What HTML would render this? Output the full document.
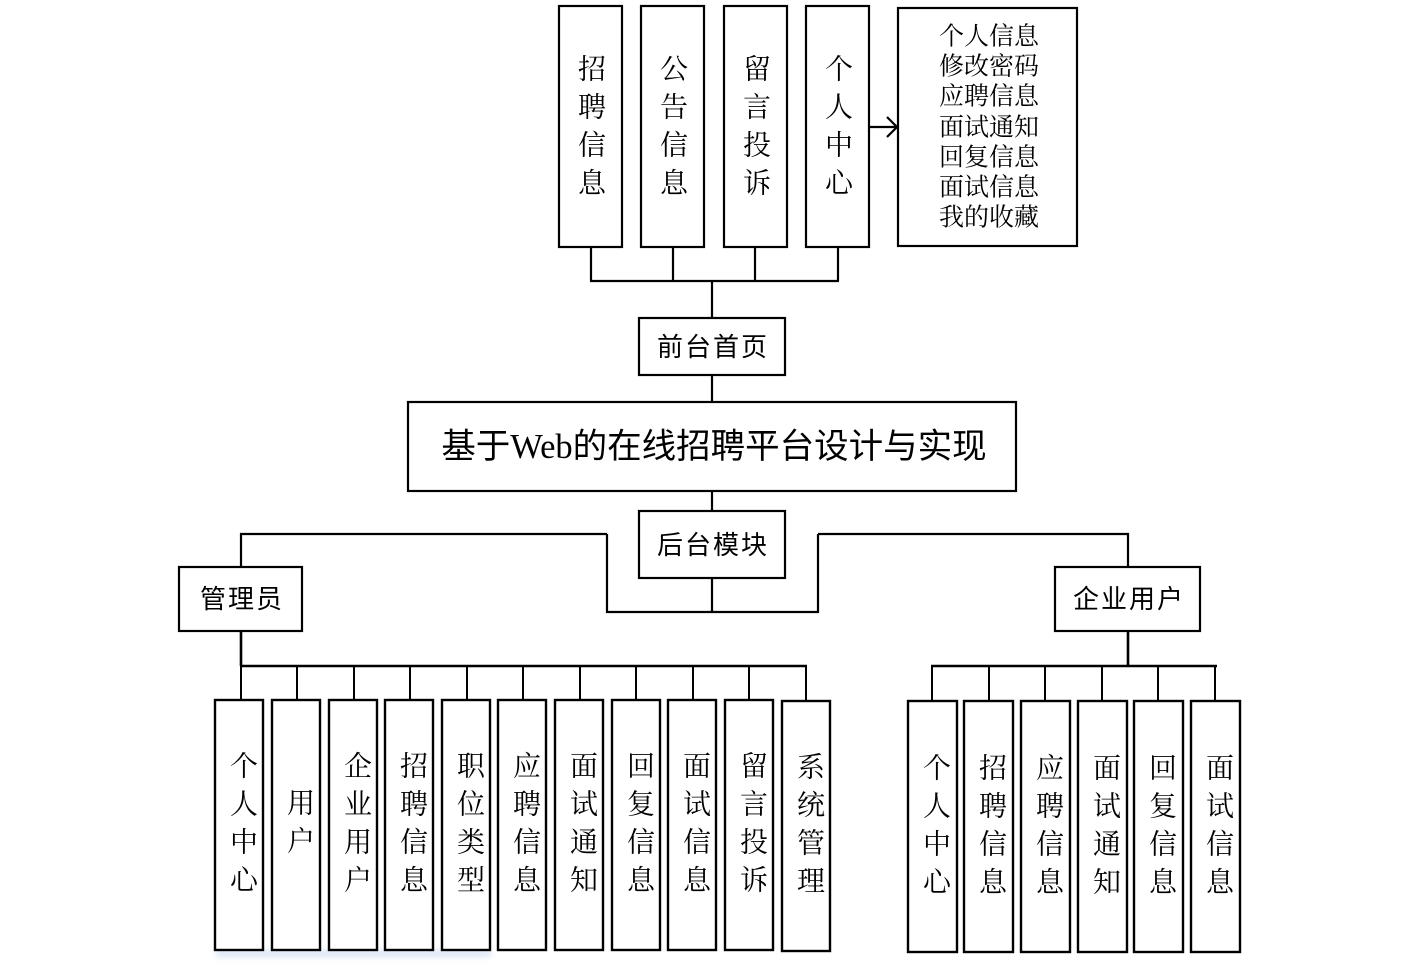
<!DOCTYPE html>
<html>
<head>
<meta charset="utf-8">
<style>
html,body{margin:0;padding:0;background:#fff;}
svg{display:block;}
.v{font-family:"Liberation Serif","Noto Serif CJK SC",serif;font-size:28px;fill:#000;}
.l{font-family:"Liberation Serif","Noto Serif CJK SC",serif;font-size:25px;fill:#000;}
.s{font-family:"Liberation Sans","Noto Sans CJK SC",sans-serif;font-size:26px;fill:#000;letter-spacing:2px;}
.t{font-family:"Liberation Serif","Noto Sans CJK SC",sans-serif;font-size:34.5px;fill:#000;}
</style>
</head>
<body>
<svg width="1411" height="967" viewBox="0 0 1411 967" xmlns="http://www.w3.org/2000/svg">
<defs>
<filter id="bl" x="-20%" y="-200%" width="140%" height="500%"><feGaussianBlur stdDeviation="3"/></filter>
</defs>
<g filter="url(#bl)" opacity="0.55">
<rect x="216" y="950" width="275" height="7" fill="#bcd2ee"/>
</g>

<g fill="none" stroke="#000" stroke-width="2.2">
<rect x="559" y="6" width="63" height="241" fill="#fff"/>
<rect x="641" y="6" width="63" height="241" fill="#fff"/>
<rect x="724" y="6" width="63" height="241" fill="#fff"/>
<rect x="806" y="6" width="63" height="241" fill="#fff"/>
<rect x="898" y="8" width="179" height="238" fill="#fff"/>
<line x1="869" y1="127" x2="897" y2="127"/>
<polyline points="887,117 897,127 887,137"/>
<line x1="591" y1="247" x2="591" y2="281"/>
<line x1="673" y1="247" x2="673" y2="281"/>
<line x1="755" y1="247" x2="755" y2="281"/>
<line x1="838" y1="247" x2="838" y2="281"/>
<line x1="590" y1="281" x2="839" y2="281"/>
<line x1="712" y1="281" x2="712" y2="318"/>
<rect x="639" y="318" width="146" height="57" fill="#fff"/>
<line x1="712" y1="375" x2="712" y2="402"/>
<rect x="408" y="402" width="608" height="89" fill="#fff"/>
<line x1="712" y1="491" x2="712" y2="511"/>
<rect x="639" y="511" width="146" height="67" fill="#fff"/>
<line x1="712" y1="578" x2="712" y2="612"/>
<polyline points="607,534 607,612 818,612 818,534"/>
<polyline points="607,534 241,534 241,567"/>
<polyline points="818,534 1128,534 1128,567"/>
<rect x="179" y="567" width="123" height="64" fill="#fff"/>
<rect x="1055" y="567" width="145" height="64" fill="#fff"/>
</g>

<g fill="none" stroke="#000" stroke-width="2.6">
<line x1="241" y1="631" x2="241" y2="666"/>
<line x1="240" y1="666" x2="807" y2="666"/>
<line x1="1128" y1="631" x2="1128" y2="666"/>
<line x1="931" y1="666" x2="1217" y2="666"/>
</g>

<g fill="none" stroke="#000" stroke-width="2">
<line x1="241" y1="666" x2="241" y2="700"/>
<line x1="297" y1="666" x2="297" y2="700"/>
<line x1="354" y1="666" x2="354" y2="700"/>
<line x1="410" y1="666" x2="410" y2="700"/>
<line x1="467" y1="666" x2="467" y2="700"/>
<line x1="523" y1="666" x2="523" y2="700"/>
<line x1="580" y1="666" x2="580" y2="700"/>
<line x1="636" y1="666" x2="636" y2="700"/>
<line x1="693" y1="666" x2="693" y2="700"/>
<line x1="749" y1="666" x2="749" y2="700"/>
<line x1="806" y1="666" x2="806" y2="701"/>
<line x1="932" y1="666" x2="932" y2="701"/>
<line x1="989" y1="666" x2="989" y2="701"/>
<line x1="1045" y1="666" x2="1045" y2="701"/>
<line x1="1102" y1="666" x2="1102" y2="701"/>
<line x1="1158" y1="666" x2="1158" y2="701"/>
<line x1="1215" y1="666" x2="1215" y2="701"/>
</g>

<g fill="#fff" stroke="#000" stroke-width="2.4">
<rect x="215" y="700" width="48" height="250"/>
<rect x="272" y="700" width="48" height="250"/>
<rect x="329" y="700" width="48" height="250"/>
<rect x="385" y="700" width="48" height="250"/>
<rect x="442" y="700" width="48" height="250"/>
<rect x="498" y="700" width="48" height="250"/>
<rect x="555" y="700" width="48" height="250"/>
<rect x="612" y="700" width="48" height="250"/>
<rect x="668" y="700" width="48" height="250"/>
<rect x="725" y="700" width="48" height="250"/>
<rect x="782" y="701" width="48" height="250"/>
<rect x="908" y="701" width="49" height="251"/>
<rect x="964" y="701" width="49" height="251"/>
<rect x="1021" y="701" width="49" height="251"/>
<rect x="1078" y="701" width="49" height="251"/>
<rect x="1134" y="701" width="49" height="251"/>
<rect x="1191" y="701" width="49" height="251"/>
</g>

<g class="v" text-anchor="middle" dominant-baseline="central">
<text x="592" y="70">招</text><text x="592" y="108">聘</text><text x="592" y="146">信</text><text x="592" y="184">息</text>
<text x="674" y="70">公</text><text x="674" y="108">告</text><text x="674" y="146">信</text><text x="674" y="184">息</text>
<text x="757" y="70">留</text><text x="757" y="108">言</text><text x="757" y="146">投</text><text x="757" y="184">诉</text>
<text x="839" y="70">个</text><text x="839" y="108">人</text><text x="839" y="146">中</text><text x="839" y="184">心</text>
</g>

<g class="l" text-anchor="middle" dominant-baseline="central">
<text x="989" y="37">个人信息</text>
<text x="989" y="67">修改密码</text>
<text x="989" y="97">应聘信息</text>
<text x="989" y="128">面试通知</text>
<text x="989" y="158">回复信息</text>
<text x="989" y="188">面试信息</text>
<text x="989" y="218">我的收藏</text>
</g>

<g class="s" text-anchor="middle" dominant-baseline="central">
<text x="713" y="347">前台首页</text>
<text x="713" y="545">后台模块</text>
<text x="242" y="599">管理员</text>
<text x="1129" y="599">企业用户</text>
</g>
<text class="t" x="714" y="447" text-anchor="middle" dominant-baseline="central">基于Web的在线招聘平台设计与实现</text>

<g class="v" text-anchor="middle" dominant-baseline="central">
<text x="244" y="767">个</text><text x="244" y="805">人</text><text x="244" y="843">中</text><text x="244" y="881">心</text>
<text x="301" y="804">用</text><text x="301" y="842">户</text>
<text x="358" y="767">企</text><text x="358" y="805">业</text><text x="358" y="843">用</text><text x="358" y="881">户</text>
<text x="414" y="767">招</text><text x="414" y="805">聘</text><text x="414" y="843">信</text><text x="414" y="881">息</text>
<text x="471" y="767">职</text><text x="471" y="805">位</text><text x="471" y="843">类</text><text x="471" y="881">型</text>
<text x="527" y="767">应</text><text x="527" y="805">聘</text><text x="527" y="843">信</text><text x="527" y="881">息</text>
<text x="584" y="767">面</text><text x="584" y="805">试</text><text x="584" y="843">通</text><text x="584" y="881">知</text>
<text x="641" y="767">回</text><text x="641" y="805">复</text><text x="641" y="843">信</text><text x="641" y="881">息</text>
<text x="697" y="767">面</text><text x="697" y="805">试</text><text x="697" y="843">信</text><text x="697" y="881">息</text>
<text x="754" y="767">留</text><text x="754" y="805">言</text><text x="754" y="843">投</text><text x="754" y="881">诉</text>
<text x="811" y="768">系</text><text x="811" y="806">统</text><text x="811" y="844">管</text><text x="811" y="882">理</text>
</g>

<g class="v" text-anchor="middle" dominant-baseline="central">
<text x="937" y="769">个</text><text x="937" y="807">人</text><text x="937" y="845">中</text><text x="937" y="883">心</text>
<text x="993" y="769">招</text><text x="993" y="807">聘</text><text x="993" y="845">信</text><text x="993" y="883">息</text>
<text x="1050" y="769">应</text><text x="1050" y="807">聘</text><text x="1050" y="845">信</text><text x="1050" y="883">息</text>
<text x="1107" y="769">面</text><text x="1107" y="807">试</text><text x="1107" y="845">通</text><text x="1107" y="883">知</text>
<text x="1163" y="769">回</text><text x="1163" y="807">复</text><text x="1163" y="845">信</text><text x="1163" y="883">息</text>
<text x="1220" y="769">面</text><text x="1220" y="807">试</text><text x="1220" y="845">信</text><text x="1220" y="883">息</text>
</g>
</svg>
</body>
</html>
